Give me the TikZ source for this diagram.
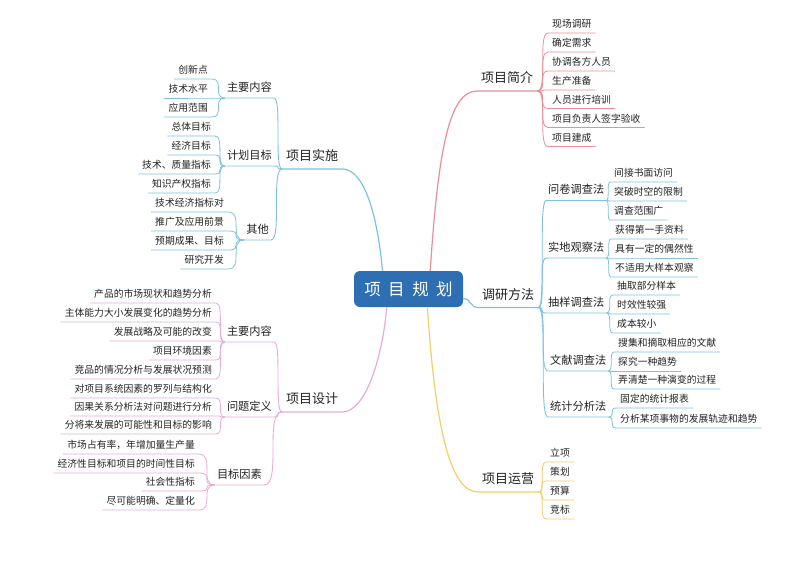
\documentclass[tikz,border=0pt]{standalone}
\usepackage{fontspec}
\newfontfamily\cjk{Noto Sans CJK SC}
\definecolor{lnpink}{RGB}{236,142,152}
\definecolor{lnblue}{RGB}{125,195,225}
\definecolor{lnviolet}{RGB}{232,172,214}
\definecolor{lnyellow}{RGB}{245,205,105}
\definecolor{rootblue}{RGB}{46,111,180}
\definecolor{txt}{RGB}{35,35,35}
\newcommand\brR[3]{\draw[#1] (#2.south east) .. controls (#2.south east -| #3.south west) and (#2.south east |- #3.south west) .. (#3.south west) -- (#3.south east);}
\newcommand\brL[3]{\draw[#1] (#2.south west) .. controls (#2.south west -| #3.south east) and (#2.south west |- #3.south east) .. (#3.south east) -- (#3.south west);}
\begin{document}
\begin{tikzpicture}[x=1pt,y=-1pt,
  mainnode/.style={font=\cjk\fontsize{13}{13}\selectfont, text=txt, inner xsep=4pt, inner ysep=0pt, text height=10pt, text depth=8pt},
  subnode/.style={font=\cjk\fontsize{11.2}{11.2}\selectfont, text=txt, inner xsep=2pt, inner ysep=0pt, text height=9pt, text depth=6.7pt},
  leafnode/.style={font=\cjk\fontsize{9.8}{9.8}\selectfont, text=txt, inner xsep=4pt, inner ysep=0pt, text height=8pt, text depth=5.3pt},
  mainline/.style={line width=1.2pt},
  subline/.style={line width=0.9pt},
  leafline/.style={line width=0.8pt},
  rootbox/.style={fill=rootblue, rounded corners=6pt, minimum width=109pt, minimum height=36pt, inner sep=0pt, text=white, font=\cjk\fontsize{16.5}{16.5}\selectfont},
]
\fill[white] (0,0) rectangle (800,566);
\useasboundingbox (0,0) rectangle (800,566);

% root
\node[rootbox] (root) at (408.5,289) {\spaceskip=7.5pt\relax 项 目 规 划};

% main topics
\node[mainnode, anchor=south west] (A) at (477,91) {项目简介};
\node[mainnode, anchor=south west] (B) at (478,307.5) {调研方法};
\node[mainnode, anchor=south west] (C) at (282,169) {项目实施};
\node[mainnode, anchor=south west] (D) at (282,412) {项目设计};
\node[mainnode, anchor=south west] (E) at (478,492) {项目运营};

% A leaves
\foreach \n/\y/\t in {a1/33/现场调研, a2/52/确定需求, a3/71/协调各方人员, a4/90/生产准备, a5/108.5/人员进行培训, a6/127.5/项目负责人签字验收, a7/146.5/项目建成}
  \node[leafnode, anchor=south west] (\n) at (548,\y) {\t};

% B sub topics
\node[subnode, anchor=south west] (b1) at (546,200.5) {问卷调查法};
\node[subnode, anchor=south west] (b2) at (546,258) {实地观察法};
\node[subnode, anchor=south west] (b3) at (546,313) {抽样调查法};
\node[subnode, anchor=south west] (b4) at (548,371) {文献调查法};
\node[subnode, anchor=south west] (b5) at (548,417) {统计分析法};

\foreach \n/\y/\t in {b1x/182/间接书面访问, b1y/201/突破时空的限制, b1z/220/调查范围广}
  \node[leafnode, anchor=south west] (\n) at (610,\y) {\t};
\foreach \n/\y/\t in {b2x/239/获得第一手资料, b2y/258/具有一定的偶然性, b2z/277/不适用大样本观察}
  \node[leafnode, anchor=south west] (\n) at (611,\y) {\t};
\foreach \n/\y/\t in {b3x/295/抽取部分样本, b3y/314/时效性较强, b3z/333/成本较小}
  \node[leafnode, anchor=south west] (\n) at (613,\y) {\t};
\foreach \n/\y/\t in {b4x/352/搜集和摘取相应的文献, b4y/371/探究一种趋势, b4z/389/弄清楚一种演变的过程}
  \node[leafnode, anchor=south west] (\n) at (614,\y) {\t};
\foreach \n/\y/\t in {b5x/408/固定的统计报表, b5y/428/分析某项事物的发展轨迹和趋势}
  \node[leafnode, anchor=south west] (\n) at (616,\y) {\t};

% E leaves
\foreach \n/\y/\t in {e1/462/立项, e2/481/策划, e3/500/预算, e4/519/竞标}
  \node[leafnode, anchor=south west] (\n) at (546,\y) {\t};

% C sub topics
\node[subnode, anchor=south east] (c1) at (274,98) {主要内容};
\node[subnode, anchor=south east] (c2) at (274,166) {计划目标};
\node[subnode, anchor=south east] (c3) at (271,240) {其他};
\foreach \n/\y/\t in {c1x/79/创新点, c1y/98/技术水平, c1z/117/应用范围}
  \node[leafnode, anchor=south east] (\n) at (212,\y) {\t};
\foreach \n/\y/\t in {c2w/136/总体目标, c2x/155/经济目标, c2y/174/技术、质量指标, c2z/193/知识产权指标}
  \node[leafnode, anchor=south east] (\n) at (215,\y) {\t};
\foreach \n/\y/\t in {c3w/212/技术经济指标对, c3x/231/推广及应用前景, c3y/250/预期成果、目标, c3z/269/研究开发}
  \node[leafnode, anchor=south east] (\n) at (228,\y) {\t};

% D sub topics
\node[subnode, anchor=south east] (d1) at (274,342) {主要内容};
\node[subnode, anchor=south east] (d2) at (274,417) {问题定义};
\node[subnode, anchor=south east] (d3) at (264,485) {目标因素};
\foreach \n/\y/\t in {d1v/303/产品的市场现状和趋势分析, d1w/322/主体能力大小发展变化的趋势分析, d1x/341/发展战略及可能的改变, d1y/360/项目环境因素, d1z/379/竞品的情况分析与发展状况预测}
  \node[leafnode, anchor=south east] (\n) at (216,\y) {\t};
\foreach \n/\y/\t in {d2x/398/对项目系统因素的罗列与结构化, d2y/416/因果关系分析法对问题进行分析, d2z/434/分将来发展的可能性和目标的影响}
  \node[leafnode, anchor=south east] (\n) at (216,\y) {\t};
\foreach \n/\y/\t in {d3w/454/市场占有率，年增加量生产量, d3x/473/经济性目标和项目的时间性目标, d3y/491/社会性指标, d3z/510/尽可能明确、定量化}
  \node[leafnode, anchor=south east] (\n) at (199,\y) {\t};

% main connectors
\draw[lnpink, mainline] (root.40) .. controls +(8,-120) and +(-28,0) .. (A.south west) -- (A.south east);
\draw[lnblue, mainline] (root.350) .. controls +(8,0) and +(-8,0) .. (B.south west) -- (B.south east);
\draw[lnblue, mainline] (root.145) .. controls +(-5,-55) and +(22,0) .. (C.south east) -- (C.south west);
\draw[lnviolet, mainline] (root.220) .. controls +(-5,55) and +(22,0) .. (D.south east) -- (D.south west);
\draw[lnyellow, mainline] (root.316) .. controls +(8,120) and +(-28,0) .. (E.south west) -- (E.south east);

% A branches
\foreach \c in {a1,a2,a3,a4,a5,a6,a7} {\brR{lnpink, leafline}{A}{\c}}
% B branches
\foreach \c in {b1,b2,b3,b4,b5} {\brR{lnblue, subline}{B}{\c}}
\foreach \c in {b1x,b1y,b1z} {\brR{lnblue, leafline}{b1}{\c}}
\foreach \c in {b2x,b2y,b2z} {\brR{lnblue, leafline}{b2}{\c}}
\foreach \c in {b3x,b3y,b3z} {\brR{lnblue, leafline}{b3}{\c}}
\foreach \c in {b4x,b4y,b4z} {\brR{lnblue, leafline}{b4}{\c}}
\foreach \c in {b5x,b5y} {\brR{lnblue, leafline}{b5}{\c}}
% E branches
\foreach \c in {e1,e2,e3,e4} {\brR{lnyellow, leafline}{E}{\c}}
% C branches
\foreach \c in {c1,c2,c3} {\brL{lnblue, subline}{C}{\c}}
\foreach \c in {c1x,c1y,c1z} {\brL{lnblue, leafline}{c1}{\c}}
\foreach \c in {c2w,c2x,c2y,c2z} {\brL{lnblue, leafline}{c2}{\c}}
\foreach \c in {c3w,c3x,c3y,c3z} {\brL{lnblue, leafline}{c3}{\c}}
% D branches
\foreach \c in {d1,d2,d3} {\brL{lnviolet, subline}{D}{\c}}
\foreach \c in {d1v,d1w,d1x,d1y,d1z} {\brL{lnviolet, leafline}{d1}{\c}}
\foreach \c in {d2x,d2y,d2z} {\brL{lnviolet, leafline}{d2}{\c}}
\foreach \c in {d3w,d3x,d3y,d3z} {\brL{lnviolet, leafline}{d3}{\c}}
\end{tikzpicture}
\end{document}
